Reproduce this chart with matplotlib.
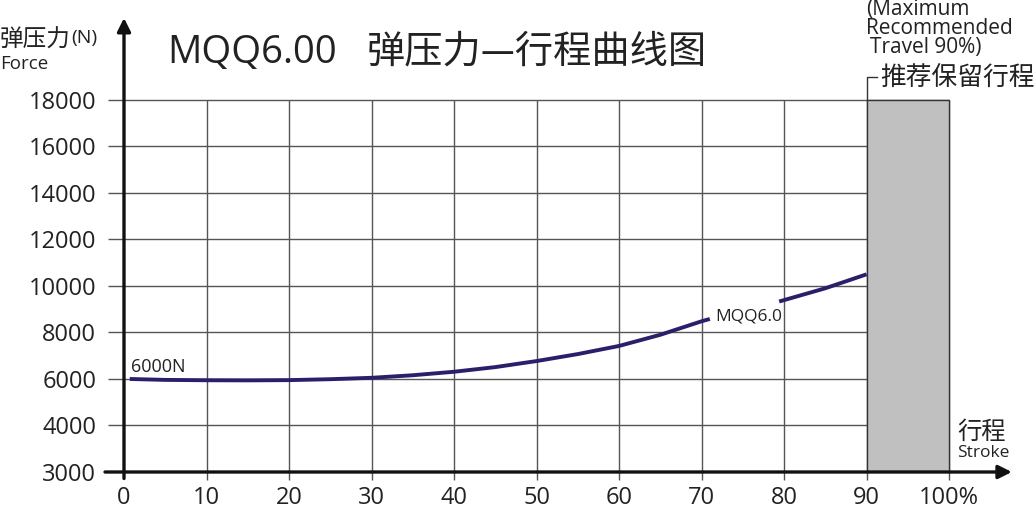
import numpy as np
import matplotlib
matplotlib.use("Agg")
import matplotlib.pyplot as plt

plt.rcParams['font.family'] = ['Open Sans', 'Noto Sans CJK SC', 'DejaVu Sans']

#curve (stroke in %, force in N), two pieces with a gap for the label
stroke1 = [0.7, 5, 10, 15, 20, 25, 30, 35, 40, 45, 50, 55, 60, 65, 70, 71]
force1 = [6000, 5960, 5945, 5940, 5950, 5990, 6050, 6160, 6310, 6510, 6770, 7070, 7420, 7900, 8480, 8580]
stroke2 = [79.4, 85, 90]
force2 = [9330, 9900, 10500]

xticks = [0, 10, 20, 30, 40, 50, 60, 70, 80, 90, 100]
xticklabels = ['0', '10', '20', '30', '40', '50', '60', '70', '80', '90', '100%']
yticks = [3000, 4000, 6000, 8000, 10000, 12000, 14000, 16000, 18000]
reserve = (90, 100)   #recommended reserve stroke

curveColor = '#2b1f6b'
gridColor = '#555555'


#broken axis: 3000-4000 gets the same height as a 2000 step
def fwd(v):
    v = np.asarray(v, dtype=float)
    return np.where(v >= 4000, v, 4000 - (4000 - v) * 2)

def inv(u):
    u = np.asarray(u, dtype=float)
    return np.where(u >= 4000, u, 4000 - (4000 - u) / 2)


fig = plt.figure(figsize=(10.35, 5.08), dpi=100)
ax = fig.add_axes([124/1035, (508-472)/508, 887/1035, (472-18)/508])
ax.set_yscale('function', functions=(fwd, inv))
ax.set_xlim(0, 107.5)
ax.set_ylim(3000, 21520)
for s in ax.spines.values():
    s.set_visible(False)

#grid, stopping at 18000 and 100%
ax.hlines(yticks[1:], -1.95, 100, color=gridColor, lw=1, clip_on=False, zorder=1)
ax.vlines(xticks[1:], 2830, 18000, color=gridColor, lw=1, clip_on=False, zorder=1)

#gray reserve zone
ax.fill_between(reserve, 3000, 18000, facecolor='#c0c0c0', edgecolor='#333333', lw=1, zorder=2)
ax.plot([90, 90, 91.3], [18000, 19000, 19000], color='#333333', lw=1, clip_on=False, zorder=3)

#axes with arrows
ax.annotate('', xy=(107.6, 3000), xytext=(-2.3, 3000),
            arrowprops=dict(arrowstyle='-|>', lw=2.4, color='#111111', mutation_scale=20,
                            shrinkA=0, shrinkB=0), annotation_clip=False, zorder=5)
ax.annotate('', xy=(0, 21520), xytext=(0, 2860),
            arrowprops=dict(arrowstyle='-|>', lw=2.4, color='#111111', mutation_scale=20,
                            shrinkA=0, shrinkB=0), annotation_clip=False, zorder=5)

#spring force curve
ax.plot(stroke1, force1, color=curveColor, lw=2.8, solid_capstyle='butt', zorder=4)
ax.plot(stroke2, force2, color=curveColor, lw=2.8, solid_capstyle='butt', zorder=4)
ax.text(0.8, 6130, '6000N', fontsize=13, color='#222222', va='bottom', ha='left', zorder=6)
ax.text(71.6, 8700, 'MQQ6.0', fontsize=12.5, color='#222222', va='center', ha='left', zorder=6)

ax.set_xticks(xticks)
ax.set_xticklabels(xticklabels)
ax.set_yticks(yticks)
ax.set_yticklabels([str(v) for v in yticks])
ax.minorticks_off()
ax.tick_params(axis='both', length=0, labelsize=17, colors='#222222')
ax.tick_params(axis='y', pad=20)
ax.tick_params(axis='x', pad=10)
ax.get_xticklabels()[-1].set_x(100.9)

#titles and axis names
fig.text(167/1035, 1-53/508, 'MQQ6.00', fontsize=27.5, color='#222222', va='center', ha='left')
fig.text(367/1035, 1-52/508, '弹压力—行程曲线图', fontsize=27.5, color='#222222', va='center', ha='left',
         family=['Noto Sans CJK SC'], fontweight='light')
fig.text(0/1035, 1-40/508, '弹压力', fontsize=17, color='#222222', va='center', ha='left',
         family=['Noto Sans CJK SC'])
fig.text(71/1035, 1-38/508, '(N)', fontsize=14, color='#222222', va='center', ha='left')
fig.text(0/1035, 1-64/508, 'Force', fontsize=13.5, color='#222222', va='center', ha='left')

fig.text(866/1035, 1-9/508, '(Maximum', fontsize=15, color='#222222', va='center', ha='left')
fig.text(866/1035, 1-29/508, 'Recommended', fontsize=15, color='#222222', va='center', ha='left')
fig.text(870/1035, 1-48/508, 'Travel 90%)', fontsize=15, color='#222222', va='center', ha='left')
fig.text(880/1035, 1-79/508, '推荐保留行程', fontsize=18.5, color='#222222', va='center', ha='left',
         family=['Noto Sans CJK SC'])
fig.text(957/1035, 1-432/508, '行程', fontsize=17.5, color='#222222', va='center', ha='left',
         family=['Noto Sans CJK SC'])
fig.text(957/1035, 1-453/508, 'Stroke', fontsize=12.5, color='#222222', va='center', ha='left')

fig.savefig('out.png', dpi=100)
